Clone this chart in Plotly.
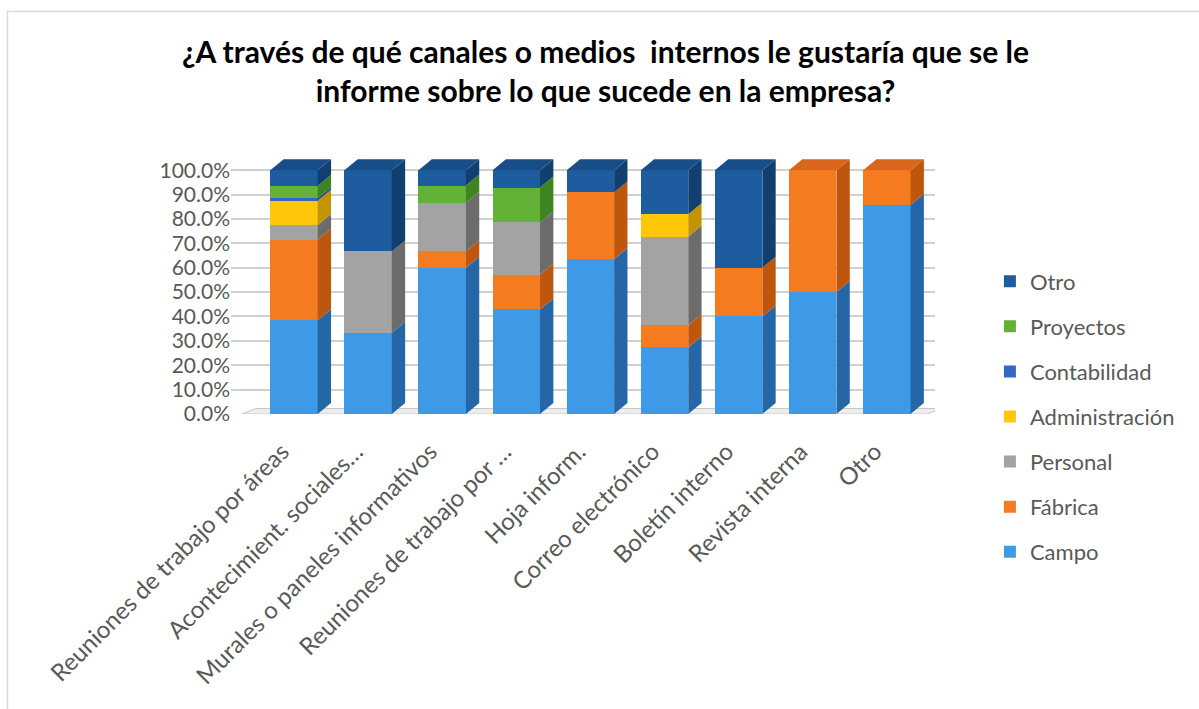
import plotly.graph_objects as go

categories = [
    "Reuniones de trabajo por áreas",
    "Acontecimient. sociales…",
    "Murales o paneles informativos",
    "Reuniones de trabajo por …",
    "Hoja inform.",
    "Correo electrónico",
    "Boletín interno",
    "Revista interna",
    "Otro",
]

campo = [38.5, 33.3, 60.0, 42.9, 63.6, 27.3, 40.0, 50.0, 85.7]
fabrica = [33.0, 0.0, 6.7, 14.3, 27.3, 9.1, 20.0, 50.0, 14.3]
personal = [6.0, 33.4, 20.0, 21.4, 0.0, 36.4, 0.0, 0.0, 0.0]
administracion = [10.0, 0.0, 0.0, 0.0, 0.0, 9.1, 0.0, 0.0, 0.0]
contabilidad = [1.0, 0.0, 0.0, 0.0, 0.0, 0.0, 0.0, 0.0, 0.0]
proyectos = [5.0, 0.0, 7.0, 14.3, 0.0, 0.0, 0.0, 0.0, 0.0]
otro = [6.5, 33.3, 6.3, 7.1, 9.1, 18.1, 40.0, 0.0, 0.0]

y_ticks = [0, 10, 20, 30, 40, 50, 60, 70, 80, 90, 100]
y_tick_labels = ["0.0%", "10.0%", "20.0%", "30.0%", "40.0%", "50.0%",
                 "60.0%", "70.0%", "80.0%", "90.0%", "100.0%"]

series = [
    ("Campo", campo, "#3E9AE6", "#2567A6", "#2F7FC4"),
    ("Fábrica", fabrica, "#F47B20", "#BE560E", "#D9661A"),
    ("Personal", personal, "#A3A3A3", "#6C6C6C", "#8A8A8A"),
    ("Administración", administracion, "#FFC60A", "#C39400", "#E0AE00"),
    ("Contabilidad", contabilidad, "#3567C9", "#244A96", "#2C57AE"),
    ("Proyectos", proyectos, "#63B136", "#3F8420", "#4F9A2A"),
    ("Otro", otro, "#1D5C9E", "#103F70", "#174E88"),
]

BAR_W = 0.64
DX = 0.18   # depth offset in category units
DY = 4.5    # depth offset in % units

fig = go.Figure()
shapes = []
n = len(categories)
base = [0.0] * n
tops = [None] * n
for gi, (name, vals, front, side, topc) in enumerate(series):
    fig.add_trace(go.Bar(
        x=list(range(n)), y=vals, name=name,
        marker=dict(color=front, line=dict(width=0)),
        width=BAR_W, legendgroup=name, legendrank=100 - gi,
    ))
    for i, v in enumerate(vals):
        if v <= 0:
            continue
        y0, y1 = base[i], base[i] + v
        xr = i + BAR_W / 2
        shapes.append(dict(
            type="path", xref="x", yref="y", layer="above",
            path=f"M{xr},{y0} L{xr + DX},{y0 + DY} L{xr + DX},{y1 + DY} L{xr},{y1} Z",
            fillcolor=side, line=dict(width=0),
        ))
        tops[i] = topc
        base[i] = y1

for i, topc in enumerate(tops):
    y = base[i]
    xl, xr = i - BAR_W / 2, i + BAR_W / 2
    shapes.append(dict(
        type="path", xref="x", yref="y", layer="above",
        path=f"M{xl},{y} L{xl + DX},{y + DY} L{xr + DX},{y + DY} L{xr},{y} Z",
        fillcolor=topc, line=dict(width=0),
    ))

# floor
shapes.append(dict(
    type="path", xref="x", yref="y", layer="between",
    path=f"M-0.7,0 L{-0.7 + DX},{DY * 0.5} L{n - 1 + 0.55 + DX},{DY * 0.5} L{n - 1 + 0.55},0 Z",
    fillcolor="#EDEDED", line=dict(color="#C8C8C8", width=1),
))

# chart border
L, R, T, B = 231, 935, 158, 414
pw, ph = R - L, B - T
shapes.append(dict(
    type="rect", xref="paper", yref="paper", layer="below",
    x0=(7.5 - L) / pw, x1=(1205 - L) / pw,
    y0=(B - 715) / ph, y1=(B - 11.5) / ph,
    line=dict(color="#D9D9D9", width=1.5), fillcolor="rgba(0,0,0,0)",
))

fig.update_layout(
    width=1199, height=709,
    margin=dict(l=L, r=1199 - R, t=T, b=709 - B),
    paper_bgcolor="white", plot_bgcolor="white",
    barmode="stack",
    shapes=shapes,
    title=dict(
        text="<b>¿A través de qué canales o medios  internos le gustaría que se le<br>informe sobre lo que sucede en la empresa?</b>",
        x=0.505, xref="container", xanchor="center",
        y=1 - 63 / 709, yref="container", yanchor="top",
        font=dict(family="Lato", size=30, color="#000000"),
    ),
    font=dict(family="Lato", color="#595959"),
    xaxis=dict(
        tickmode="array", tickvals=list(range(n)), ticktext=categories,
        range=[-0.85, n - 1 + 0.65], tickangle=-45,
        tickfont=dict(size=24, color="#595959"),
        ticklabelstandoff=18, ticklabelshift=-12,
        showgrid=False, zeroline=False, showline=False, ticks="",
    ),
    yaxis=dict(
        range=[0, 105], tickmode="array", tickvals=y_ticks, ticktext=y_tick_labels,
        tickfont=dict(size=21, color="#595959"),
        showgrid=True, gridcolor="#D0D0D0", gridwidth=1.5,
        zeroline=False, showline=False, ticks="",
    ),
    legend=dict(
        x=1.078, xanchor="left", y=0.6, yanchor="top",
        traceorder="grouped", tracegroupgap=13.5, maxheight=600,
        font=dict(size=22, color="#595959"),
        bgcolor="rgba(0,0,0,0)",
    ),
    bargap=0.3,
)

fig.write_html("out.html")
